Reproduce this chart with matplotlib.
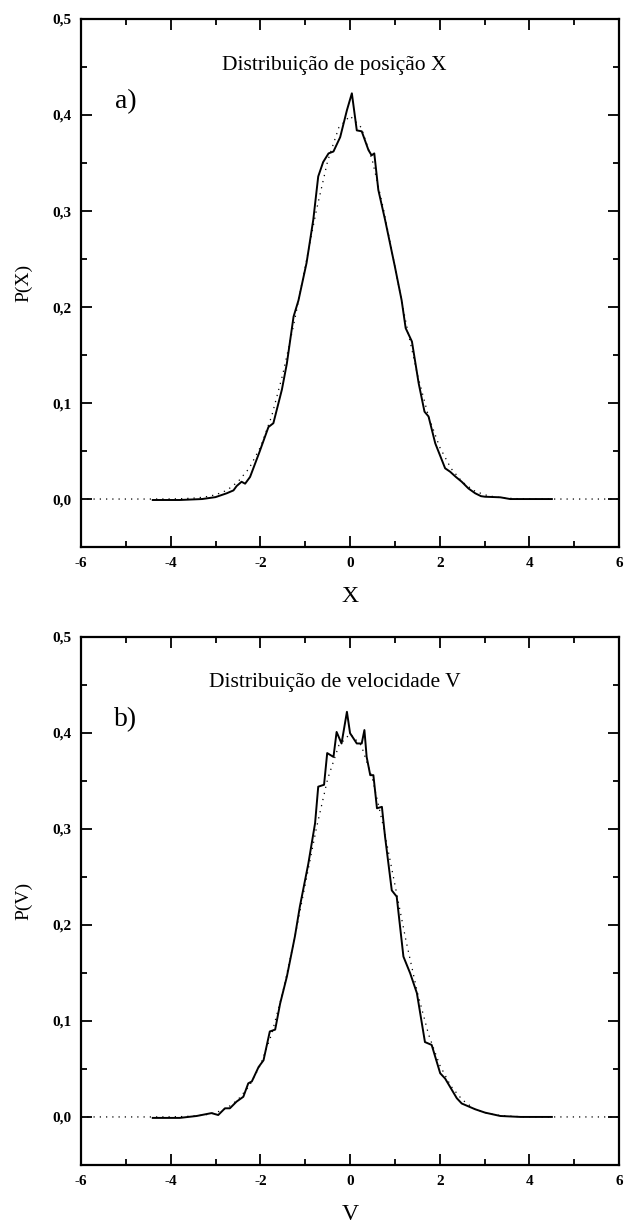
import numpy as np
import matplotlib.pyplot as plt
from matplotlib.ticker import MultipleLocator, FuncFormatter

plt.rcParams['font.family'] = ['Liberation Serif', 'DejaVu Serif']
plt.rcParams['axes.unicode_minus'] = False

# measured distribution, panel a (position X)
x_a = [-4.4, -3.8, -3.3, -3.0, -2.75, -2.6, -2.53, -2.42, -2.34, -2.23, -2.02,
       -1.82, -1.71, -1.52, -1.41, -1.26, -1.15, -0.97, -0.82, -0.71, -0.60,
       -0.48, -0.37, -0.22, -0.07, 0.04, 0.15, 0.26, 0.41, 0.48, 0.54, 0.63,
       0.78, 1.00, 1.15, 1.24, 1.38, 1.53, 1.66, 1.75, 1.90, 2.12, 2.23, 2.36, 2.49,
       2.64, 2.79, 2.92, 3.01, 3.35, 3.57, 4.0, 4.5]
y_a = [-0.001, -0.001, 0.0, 0.002, 0.006, 0.009, 0.0135, 0.018, 0.016, 0.023, 0.049,
       0.075, 0.079, 0.114, 0.141, 0.190, 0.207, 0.246, 0.291, 0.336, 0.351,
       0.360, 0.362, 0.377, 0.405, 0.4226, 0.384, 0.383, 0.3635, 0.358, 0.360, 0.322,
       0.291, 0.242, 0.207, 0.178, 0.164, 0.1205, 0.091, 0.086, 0.058, 0.032, 0.0285, 0.023, 0.018,
       0.011, 0.006, 0.003, 0.0024, 0.0018, 0.0, 0.0, 0.0]

# measured distribution, panel b (velocity V)
x_b = [-4.4, -3.8, -3.42, -3.09, -2.94, -2.79, -2.68, -2.53, -2.38, -2.27, -2.19,
       -2.04, -1.93, -1.79, -1.67, -1.56, -1.41, -1.23, -1.12, -0.93, -0.78,
       -0.71, -0.58, -0.51, -0.37, -0.30, -0.19, -0.07, 0.0, 0.15, 0.26, 0.32,
       0.37, 0.45, 0.52, 0.60, 0.71, 0.78, 0.93, 1.04, 1.19, 1.34, 1.49, 1.67,
       1.82, 2.01, 2.12, 2.38, 2.49, 2.79, 3.01, 3.35, 3.8, 4.5]
y_b = [-0.001, -0.001, 0.001, 0.004, 0.002, 0.009, 0.009, 0.016, 0.021, 0.035, 0.037,
       0.052, 0.059, 0.089, 0.091, 0.118, 0.146, 0.188, 0.219, 0.264, 0.306,
       0.344, 0.346, 0.379, 0.375, 0.401, 0.389, 0.422, 0.3997, 0.389, 0.389, 0.403,
       0.375, 0.356, 0.356, 0.3215, 0.323, 0.292, 0.236, 0.2295, 0.167, 0.1497, 0.129, 0.078,
       0.075, 0.0455, 0.040, 0.0195, 0.014, 0.008, 0.0045, 0.001, 0.0, 0.0]

# gaussian fit (dotted)
g_x = [-6.0, -5.0, -4.5, -4.0, -3.75, -3.5, -3.25, -3.0, -2.75, -2.5, -2.25, -2.0,
       -1.75, -1.5, -1.25, -1.0, -0.75, -0.5, -0.25, 0.0, 0.25, 0.5, 0.75, 1.0,
       1.25, 1.5, 1.75, 2.0, 2.25, 2.5, 2.75, 3.0, 3.25, 3.5, 3.75, 4.0, 4.5, 5.0, 6.0]
g_y = [0.0, 0.0, 0.0, 0.0001, 0.0004, 0.0009, 0.002, 0.0044, 0.009, 0.018, 0.032, 0.054,
       0.086, 0.130, 0.183, 0.242, 0.301, 0.352, 0.387, 0.399, 0.387, 0.352, 0.301, 0.242,
       0.183, 0.130, 0.086, 0.054, 0.032, 0.018, 0.009, 0.0044, 0.002, 0.0009, 0.0004, 0.0001, 0.0, 0.0, 0.0]

panels = [
    (x_a, y_a, 'Distribuição de posição X', 'a)', 'X', 'P(X)'),
    (x_b, y_b, 'Distribuição de velocidade V', 'b)', 'V', 'P(V)'),
]

fig = plt.figure(figsize=(6.25, 12.26), dpi=100)
rects = [[0.1296, 0.5538, 0.861, 0.4307], [0.1296, 0.0498, 0.861, 0.4307]]

comma = FuncFormatter(lambda v, p: ('%.1f' % v).replace('.', ','))

for rect, (xs, ys, title, tag, xl, yl) in zip(rects, panels):
    ax = fig.add_axes(rect)
    ax.plot(g_x, g_y, color='black', lw=0.9, ls=(0, (1, 4)))
    ax.plot(xs, ys, color='black', lw=1.4)
    ax.set_xlim(-6, 6)
    ax.set_ylim(-0.05, 0.5)
    ax.xaxis.set_major_locator(MultipleLocator(2))
    ax.xaxis.set_minor_locator(MultipleLocator(1))
    ax.yaxis.set_major_locator(MultipleLocator(0.1))
    ax.yaxis.set_minor_locator(MultipleLocator(0.05))
    ax.yaxis.set_major_formatter(comma)
    ax.tick_params(which='both', direction='in', top=True, right=True, width=1.3)
    ax.tick_params(which='major', length=8, labelsize=11, pad=7)
    ax.tick_params(which='minor', length=4)
    for lab in ax.get_xticklabels() + ax.get_yticklabels():
        lab.set_fontweight('bold')
    for s in ax.spines.values():
        s.set_linewidth(1.6)
    ax.text(-0.35, 0.452, title, ha='center', va='center', fontsize=15.5)
    ax.text(-5.0, 0.414, tag, ha='center', va='center', fontsize=20)
    ax.set_xlabel(xl, fontsize=17, labelpad=12)
    ax.set_ylabel(yl, fontsize=14, labelpad=14)

fig.savefig('out.png', dpi=100)
